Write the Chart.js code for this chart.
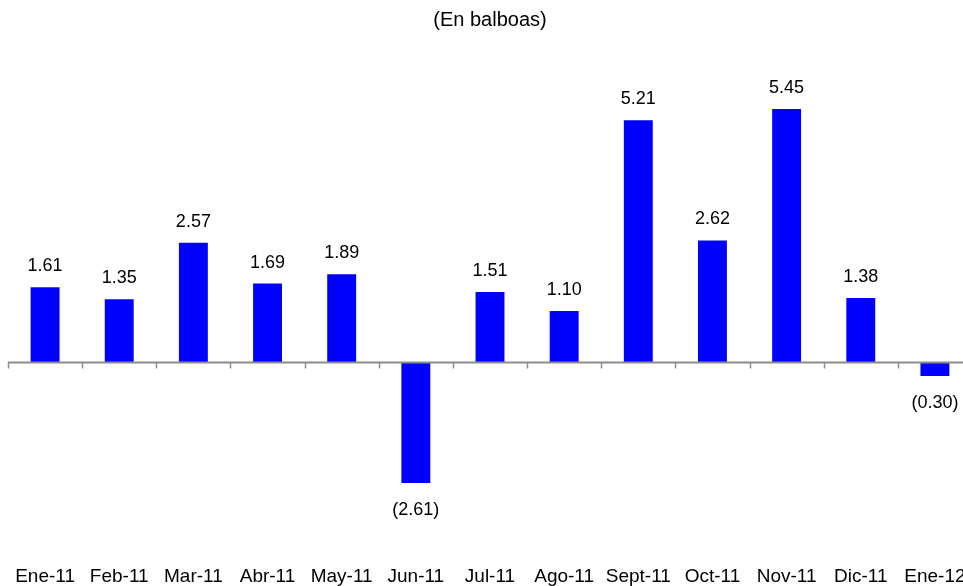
<!DOCTYPE html>
<html>
<head>
<meta charset="utf-8">
<script src="https://cdn.jsdelivr.net/npm/chart.js@4"></script>
<style>
html,body{margin:0;padding:0;background:#fff;overflow:hidden;}
#wrap{width:990px;height:586px;}
</style>
</head>
<body>
<div id="wrap"><canvas id="c" width="990" height="586"></canvas></div>
<script>
const categories = ["Ene-11","Feb-11","Mar-11","Abr-11","May-11","Jun-11","Jul-11","Ago-11","Sept-11","Oct-11","Nov-11","Dic-11","Ene-12"];
const values = [1.61, 1.35, 2.57, 1.69, 1.89, -2.61, 1.51, 1.10, 5.21, 2.62, 5.45, 1.38, -0.30];
const titleText = "(En balboas)";

const FONT = "'Liberation Sans', Arial, sans-serif";

const zeroAxisPlugin = {
  id: 'zeroAxis',
  afterDatasetsDraw(chart) {
    const {ctx, chartArea, scales} = chart;
    const y0 = Math.round(scales.y.getPixelForValue(0)) + 0.5;
    const n = categories.length;
    const w = (chartArea.right - chartArea.left) / n;
    ctx.save();
    ctx.strokeStyle = '#8c8c8c';
    ctx.lineWidth = 2;
    ctx.beginPath();
    ctx.moveTo(chartArea.left, y0);
    ctx.lineTo(chartArea.right, y0);
    ctx.stroke();
    ctx.lineWidth = 1.5;
    for (let i = 0; i <= n; i++) {
      const x = Math.round(chartArea.left + i * w) + 0.5;
      ctx.beginPath();
      ctx.moveTo(x, y0);
      ctx.lineTo(x, y0 + 6);
      ctx.stroke();
    }
    ctx.fillStyle = '#000';
    ctx.font = "18px " + FONT;
    ctx.textAlign = 'center';
    ctx.textBaseline = 'middle';
    const meta = chart.getDatasetMeta(0);
    meta.data.forEach((bar, i) => {
      const v = values[i];
      const txt = v < 0 ? '(' + Math.abs(v).toFixed(2) + ')' : v.toFixed(2);
      const y = v >= 0 ? bar.y - 21 : bar.y + 27;
      ctx.fillText(txt, bar.x, y);
    });
    ctx.restore();
  }
};

new Chart(document.getElementById('c'), {
  type: 'bar',
  data: {
    labels: categories,
    datasets: [{
      data: values,
      backgroundColor: '#0000ff',
      borderWidth: 0,
      barPercentage: 0.39,
      categoryPercentage: 1.0
    }]
  },
  options: {
    responsive: false,
    animation: false,
    layout: { padding: { left: 8, right: 18, top: 0, bottom: 0 } },
    plugins: {
      legend: { display: false },
      tooltip: { enabled: false },
      title: {
        display: true,
        text: titleText,
        color: '#000',
        font: { family: FONT, size: 20, weight: 'normal' },
        padding: { top: 8, bottom: 51.6 }
      }
    },
    scales: {
      x: {
        grid: { display: false },
        border: { display: false },
        afterFit(scale) { scale.height = 38.4; },
        ticks: {
          color: '#000',
          font: { family: FONT, size: 19 },
          padding: 10,
          maxRotation: 0,
          autoSkip: false
        }
      },
      y: {
        display: false,
        min: -4,
        max: 6
      }
    }
  },
  plugins: [zeroAxisPlugin]
});
</script>
</body>
</html>
